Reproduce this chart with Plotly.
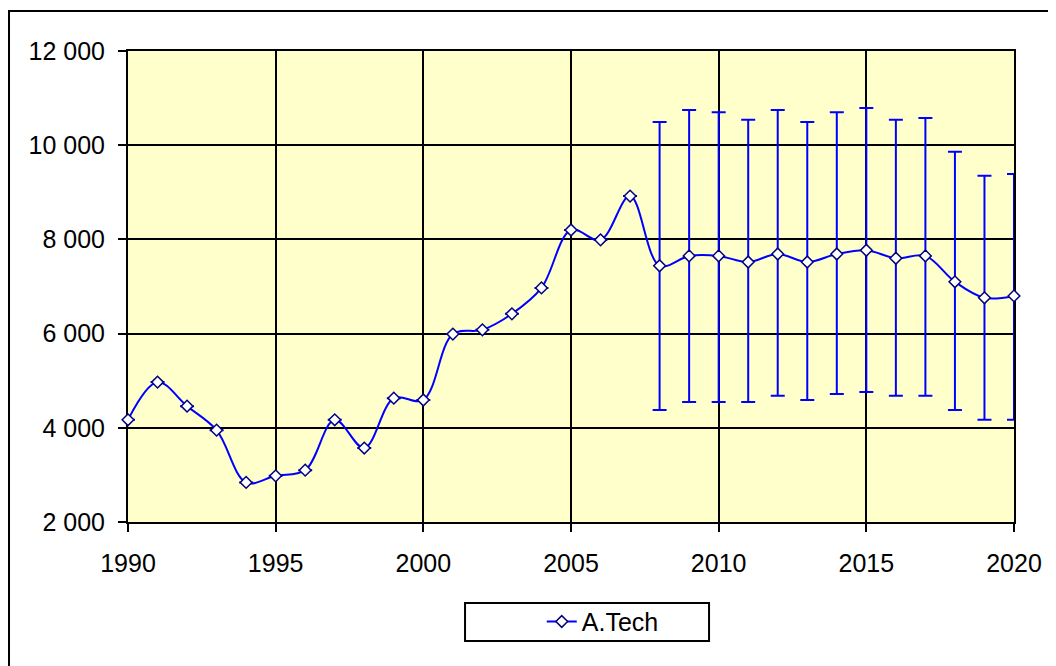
import plotly.graph_objects as go

years = list(range(1990, 2021))
atech = [4170, 4970, 4460, 3950, 2840, 2980, 3100, 4170, 3570, 4630,
         4590, 5990, 6080, 6420, 6970, 8200, 7990, 8920, 7440, 7650,
         7650, 7520, 7690, 7520, 7690, 7770, 7600, 7650, 7100, 6760,
         6800]
# error bar bounds, 2008-2020 only
upper = [None] * 18 + [10490, 10750, 10700, 10540, 10750, 10490, 10700,
                       10790, 10540, 10580, 9860, 9350, 9390]
lower = [None] * 18 + [4380, 4550, 4550, 4550, 4680, 4590, 4720,
                       4760, 4680, 4680, 4380, 4170, 4170]

err_plus = [None if u is None else u - v for u, v in zip(upper, atech)]
err_minus = [None if l is None else v - l for l, v in zip(lower, atech)]

fig = go.Figure()
fig.add_trace(go.Scatter(
    x=years, y=atech, name="A.Tech", mode="lines+markers",
    line=dict(color="#0000FF", width=2, shape="spline", smoothing=1.0),
    marker=dict(symbol="diamond", size=9, color="white",
                line=dict(color="#000080", width=1.5)),
    error_y=dict(type="data", symmetric=False, array=err_plus,
                 arrayminus=err_minus, color="#0000FF", thickness=2, width=7),
    cliponaxis=False,
))

axis_common = dict(showgrid=True, gridcolor="black", gridwidth=1.5,
                   showline=True, linecolor="black", linewidth=2, mirror=True,
                   ticks="outside", ticklen=8, tickcolor="black", tickwidth=1.5,
                   zeroline=False, layer="below traces")

# page body adds 8px, so margins are trimmed to keep the plot area in place
fig.update_layout(
    width=1056, height=666,
    margin={"l": 120, "r": 50, "t": 43, "b": 152},
    font={"family": "Liberation Sans, Arial", "size": 25, "color": "black"},
    separators=". ",
    paper_bgcolor="white",
    plot_bgcolor="#FFFFCC",
    xaxis=dict(range=[1990, 2020], dtick=5, tick0=1990,
               ticklabelstandoff=10, **axis_common),
    yaxis=dict(range=[2000, 12000], dtick=2000, tickformat=",d",
               ticklabelstandoff=8, **axis_common),
    showlegend=True,
    legend=dict(x=0.467, y=-0.163, xanchor="left", yanchor="top",
                bgcolor="rgba(0,0,0,0)", borderwidth=0,
                font={"size": 25}),
    shapes=[
        # legend box
        dict(type="rect", xref="paper", yref="paper",
             x0=0.3804, x1=0.6558, y0=-0.2527, y1=-0.172,
             line=dict(color="black", width=2)),
        # outer chart border
        dict(type="rect", xref="paper", yref="paper",
             x0=-0.1343, x1=1.06, y0=-0.32, y1=1.085,
             line=dict(color="black", width=2)),
    ],
)

fig.write_html("out.html")
